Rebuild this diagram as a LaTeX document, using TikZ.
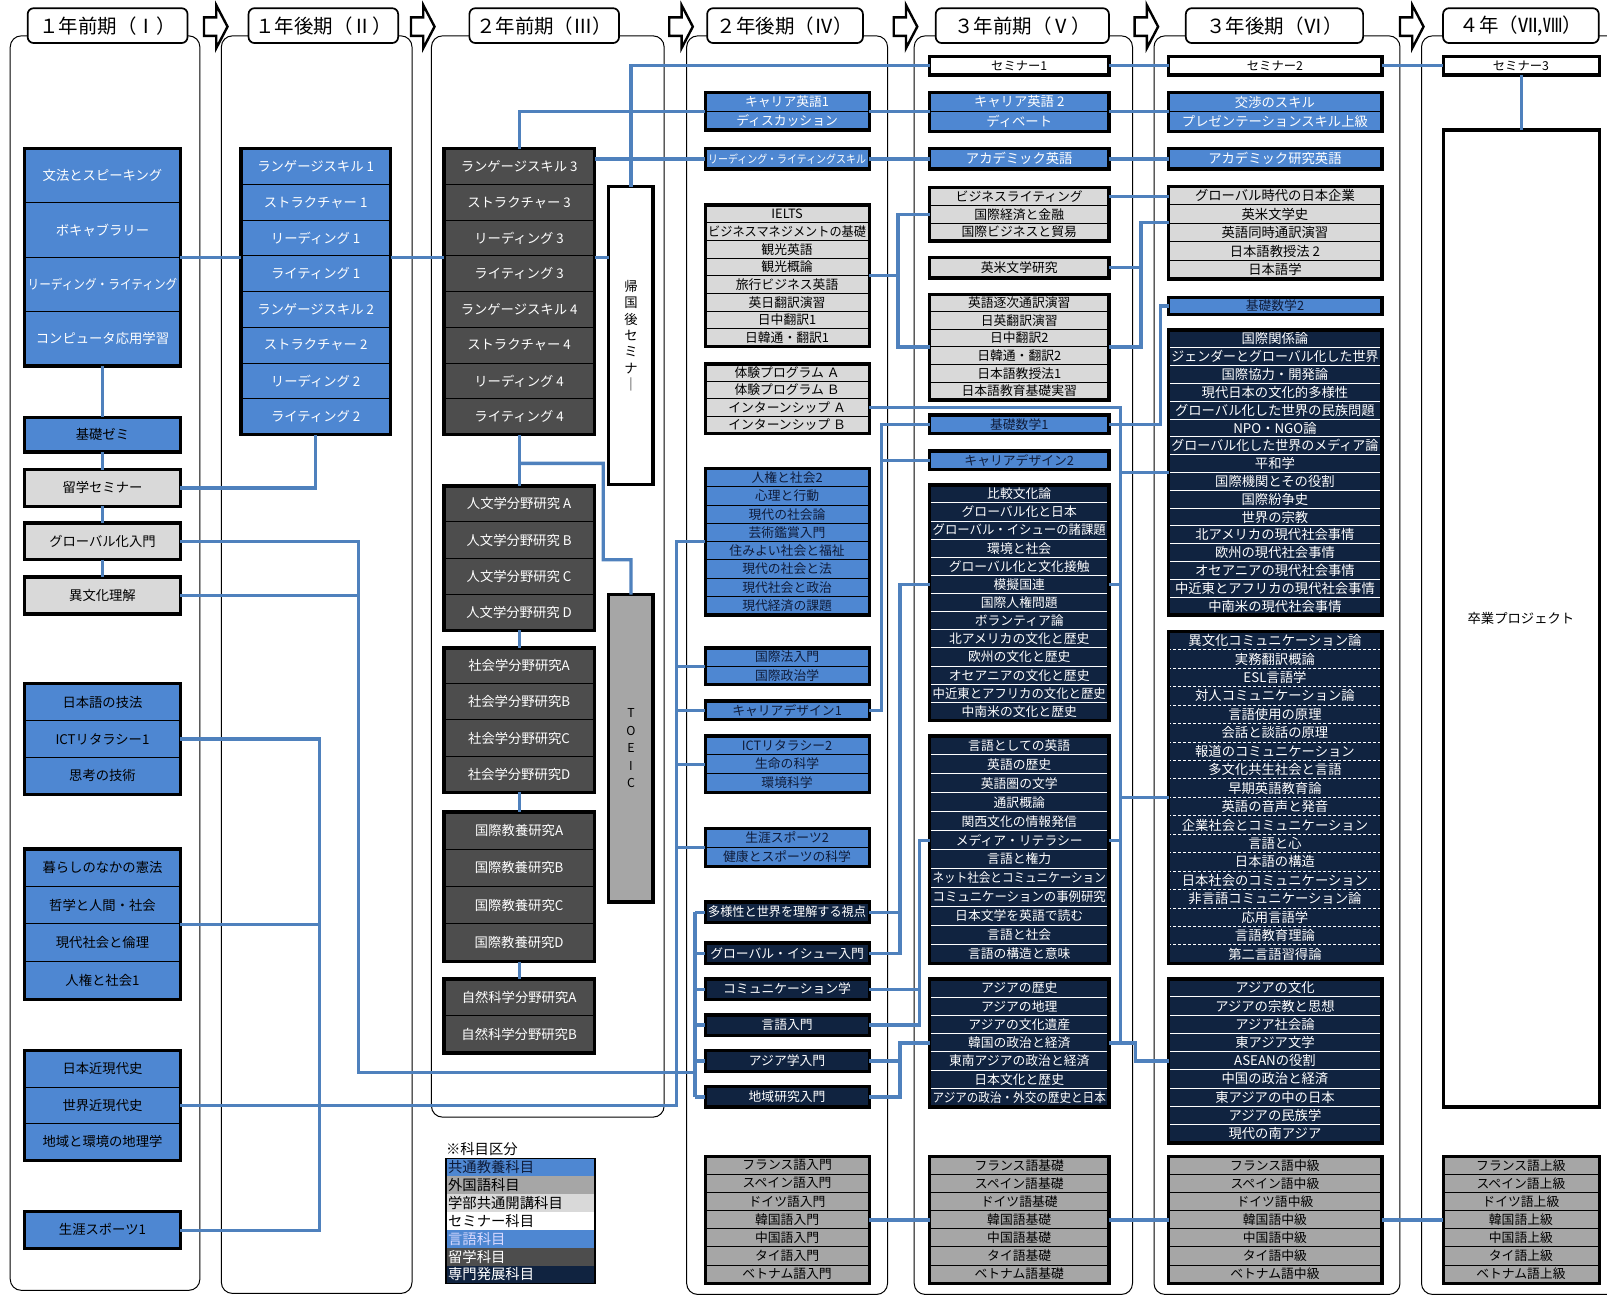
\documentclass[tikz,border=0pt]{standalone}
\usepackage{fontspec}
\setmainfont{Noto Sans CJK JP}
\usepackage{graphicx}
\usetikzlibrary{calc}
\definecolor{cblue}{RGB}{78,135,210}
\definecolor{cnavy}{RGB}{16,35,64}
\definecolor{cnavyt}{RGB}{15,28,58}
\definecolor{cdark}{RGB}{77,77,77}
\definecolor{cgray}{RGB}{166,166,166}
\definecolor{clight}{RGB}{217,217,217}
\definecolor{cline}{RGB}{79,129,189}
\newcommand\fsz[1]{\fontsize{#1}{#1}\selectfont}
\newsavebox\fitsavebox
\newcommand\fitw[2]{\sbox\fitsavebox{#2}\ifdim\wd\fitsavebox>#1\relax\resizebox{#1}{\height}{\usebox\fitsavebox}\else\usebox\fitsavebox\fi}
\tikzset{
 boxbg/.style={inner sep=0pt,outer sep=0pt,draw=none},
 boxborder/.style={draw=black,line width=3.4pt},
 celltext/.style={inner sep=0pt,outer sep=0pt},
 conn/.style={draw=cline,line width=3.3pt},
 panel/.style={draw=black,line width=1pt,rounded corners=11pt},
 hdr/.style={draw=black,line width=1.7pt,rounded corners=6pt,fill=white,font=\fsz{19},minimum height=34pt,inner sep=0pt},
 blkarrow/.style={draw=black,line width=2.4pt,fill=white,line join=miter},
 divk/.style={black,line width=1pt},
 divw/.style={white,line width=1pt},
 divwd/.style={white,line width=1pt,dash pattern=on 3pt off 2pt},
 bW bg/.style={fill=cblue}, bW txt/.style={text=white,font=\fsz{13}},
 bK bg/.style={fill=cblue}, bK txt/.style={text=black,font=\fsz{13}},
 bWs bg/.style={fill=cblue}, bWs txt/.style={text=white,font=\fsz{12.5}},
 bWt bg/.style={fill=cblue}, bWt txt/.style={text=white,font=\fsz{11}},
 bN bg/.style={fill=cblue}, bN txt/.style={text=cnavyt,font=\fsz{12.5}},
 lK bg/.style={fill=clight}, lK txt/.style={text=black,font=\fsz{13}},
 lKs bg/.style={fill=clight}, lKs txt/.style={text=black,font=\fsz{12.5}},
 dW bg/.style={fill=cdark}, dW txt/.style={text=white,font=\fsz{13}},
 gK bg/.style={fill=cgray}, gK txt/.style={text=black,font=\fsz{12.5}},
 nW bg/.style={fill=cnavy}, nW txt/.style={text=white,font=\fsz{13}},
 nWs bg/.style={fill=cnavy}, nWs txt/.style={text=white,font=\fsz{12.5}},
 wK bg/.style={fill=white}, wK txt/.style={text=black,font=\fsz{12}},
 wKl bg/.style={fill=white}, wKl txt/.style={text=black,font=\fsz{13}},
}
% #1 name #2 x1 #3 x2 #4 y1 #5 y2 #6 rows #7 kind #8 divider #9 items
\newcommand\subjlist[9]{%
  \node[boxbg,#7 bg,minimum width={(#3-#2)*1pt},minimum height={(#5-#4)*1pt}] (#1) at ({(#2+#3)/2},{(#4+#5)/2}) {};
  \pgfmathsetmacro\rowh{(#5-#4)/#6}%
  \pgfmathsetmacro\boxw{#3-#2-6}%
  \ifnum#6>1
    \foreach \rr in {2,...,#6}{\draw[#8] (#2,{#4+(\rr-1)*\rowh}) -- (#3,{#4+(\rr-1)*\rowh});}
  \fi
  \foreach \itm [count=\rr] in {#9}{%
    \node[celltext,#7 txt,minimum width={(#3-#2)*1pt},minimum height={\rowh*1pt}] (#1-\rr) at ({(#2+#3)/2},{#4+(\rr-0.5)*\rowh}) {\fitw{\boxw pt}{\itm}};}
  \draw[boxborder] (#1.north west) rectangle (#1.south east);
}
\newcommand\blockarrow[1]{\draw[blkarrow] (#1,17) -- ++(12,0) -- ++(0,-12) -- ++(11,21) -- ++(-11,21) -- ++(0,-12) -- ++(-12,0) -- cycle;}
\begin{document}
\begin{tikzpicture}[x=1pt,y=-1pt,scale=1.0249,every node/.append style={transform shape}]
\fill[white] (0,0) rectangle (1568,1262.6);
\useasboundingbox (0,0) rectangle (1568,1262.6);
\clip (0,0) rectangle (1568,1262.6);
% panels
\draw[panel] (10,35) rectangle (195,1259);
\draw[panel] (216,35) rectangle (402,1262);
\draw[panel] (421,35) rectangle (648,1090);
\draw[panel] (670,35) rectangle (866,1263);
\draw[panel] (892,35) rectangle (1105,1263);
\draw[panel] (1126,35) rectangle (1366,1263);
\draw[panel] (1387,35) rectangle (1620,1263);
% headers
\node[hdr,minimum width=156pt] (h1) at (105,25) {１年前期（Ⅰ）};
\node[hdr,minimum width=146pt] (h2) at (315.5,25) {１年後期（Ⅱ）};
\node[hdr,minimum width=146pt] (h3) at (531,25) {２年前期（Ⅲ）};
\node[hdr,minimum width=152pt] (h4) at (766,25) {２年後期（Ⅳ）};
\node[hdr,minimum width=169pt] (h5) at (997.5,25) {３年前期（Ⅴ）};
\node[hdr,minimum width=173pt] (h6) at (1243.5,25) {３年後期（Ⅵ）};
\node[hdr,minimum width=152pt] (h7) at (1484,25) {４年（Ⅶ,Ⅷ）};
\blockarrow{199}\blockarrow{401}\blockarrow{653}\blockarrow{872}\blockarrow{1107}\blockarrow{1366}
% column 1
\subjlist{c1a}{24}{176}{145}{357}{4}{bW}{divk}{文法とスピーキング,ボキャブラリー,リーディング・ライティング,コンピュータ応用学習}
\subjlist{c1b}{24}{176}{407}{441}{1}{bK}{divk}{基礎ゼミ}
\subjlist{c1c}{24}{176}{458}{494}{1}{lK}{divk}{留学セミナー}
\subjlist{c1d}{24}{176}{510}{546}{1}{lK}{divk}{グローバル化入門}
\subjlist{c1e}{24}{176}{563}{599}{1}{lK}{divk}{異文化理解}
\subjlist{c1f}{24}{176}{667}{775}{3}{bK}{divk}{日本語の技法,ICTリタラシー1,思考の技術}
\subjlist{c1g}{24}{176}{828}{975}{4}{bK}{divk}{暮らしのなかの憲法,哲学と人間・社会,現代社会と倫理,人権と社会1}
\subjlist{c1h}{24}{176}{1025}{1132}{3}{bK}{divk}{日本近現代史,世界近現代史,地域と環境の地理学}
\subjlist{c1i}{24}{176}{1182}{1218}{1}{bK}{divk}{生涯スポーツ1}
% column 2
\subjlist{c2}{235}{381}{145}{424}{8}{bW}{divk}{ランゲージスキル 1,ストラクチャー 1,リーディング 1,ライティング 1,ランゲージスキル 2,ストラクチャー 2,リーディング 2,ライティング 2}
% column 3
\subjlist{c3a}{433}{580}{145}{424}{8}{dW}{divk}{ランゲージスキル 3,ストラクチャー 3,リーディング 3,ライティング 3,ランゲージスキル 4,ストラクチャー 4,リーディング 4,ライティング 4}
\subjlist{c3b}{433}{580}{474}{615}{4}{dW}{divk}{人文学分野研究 A,人文学分野研究 B,人文学分野研究 C,人文学分野研究 D}
\subjlist{c3c}{433}{580}{632}{773}{4}{dW}{divk}{社会学分野研究A,社会学分野研究B,社会学分野研究C,社会学分野研究D}
\subjlist{c3d}{433}{580}{792}{938}{4}{dW}{divk}{国際教養研究A,国際教養研究B,国際教養研究C,国際教養研究D}
\subjlist{c3e}{433}{580}{955}{1027}{2}{dW}{divk}{自然科学分野研究A,自然科学分野研究B}
\node[draw=black,line width=3.4pt,fill=white,minimum width=43pt,minimum height=291pt,inner sep=0pt,outer sep=0pt] (kikoku) at (615.5,327.5) {};
\node[font=\fontsize{13}{16}\selectfont,align=center,inner sep=0pt] (kikokuT) at (kikoku.center) {帰\\国\\後\\セ\\ミ\\ナ\\｜};
\node[draw=black,line width=3.4pt,fill=cgray,minimum width=43pt,minimum height=300pt,inner sep=0pt,outer sep=0pt] (toeic) at (615.5,730) {};
\node[font=\fontsize{12}{17}\selectfont,align=center,inner sep=0pt] (toeicT) at (toeic.center) {T\\O\\E\\I\\C};
% column 4
\subjlist{c4a}{688}{848}{90}{127}{2}{bWs}{divk}{キャリア英語1,ディスカッション}
\subjlist{c4b}{688}{848}{145}{165}{1}{bWt}{divk}{リーディング・ライティングスキル}
\subjlist{c4c}{688}{848}{200}{338}{8}{lKs}{divk}{IELTS,ビジネスマネジメントの基礎,観光英語,観光概論,旅行ビジネス英語,英日翻訳演習,日中翻訳1,日韓通・翻訳1}
\subjlist{c4d}{688}{848}{355}{423}{4}{lKs}{divk}{体験プログラム Ａ,体験プログラム Ｂ,インターンシップ Ａ,インターンシップ Ｂ}
\subjlist{c4e}{688}{848}{457}{600}{8}{bN}{divk}{人権と社会2,心理と行動,現代の社会論,芸術鑑賞入門,住みよい社会と福祉,現代の社会と法,現代社会と政治,現代経済の課題}
\subjlist{c4f}{688}{848}{632}{668}{2}{bN}{divk}{国際法入門,国際政治学}
\subjlist{c4g}{688}{848}{684}{702}{1}{bN}{divk}{キャリアデザイン1}
\subjlist{c4h}{688}{848}{718}{773}{3}{bN}{divk}{ICTリタラシー2,生命の科学,環境科学}
\subjlist{c4i}{688}{848}{808}{845}{2}{bN}{divk}{生涯スポーツ2,健康とスポーツの科学}
\subjlist{c4j}{688}{848}{880}{900}{1}{nWs}{divw}{多様性と世界を理解する視点}
\subjlist{c4k}{688}{848}{920}{940}{1}{nWs}{divw}{グローバル・イシュー入門}
\subjlist{c4l}{688}{848}{955}{975}{1}{nWs}{divw}{コミュニケーション学}
\subjlist{c4m}{688}{848}{990}{1010}{1}{nWs}{divw}{言語入門}
\subjlist{c4n}{688}{848}{1025}{1045}{1}{nWs}{divw}{アジア学入門}
\subjlist{c4o}{688}{848}{1060}{1080}{1}{nWs}{divw}{地域研究入門}
\subjlist{c4p}{688}{848}{1128}{1252}{7}{gK}{divk}{フランス語入門,スペイン語入門,ドイツ語入門,韓国語入門,中国語入門,タイ語入門,ベトナム語入門}
% column 5
\subjlist{c5a}{907}{1082}{55}{73}{1}{wK}{divk}{セミナー1}
\subjlist{c5b}{907}{1082}{90}{128}{2}{bW}{divk}{キャリア英語 2,ディベート}
\subjlist{c5c}{907}{1082}{145}{165}{1}{bW}{divk}{アカデミック英語}
\subjlist{c5d}{907}{1082}{183}{235}{3}{lKs}{divk}{ビジネスライティング,国際経済と金融,国際ビジネスと貿易}
\subjlist{c5e}{907}{1082}{251}{271}{1}{lKs}{divk}{英米文学研究}
\subjlist{c5f}{907}{1082}{287}{390}{6}{lKs}{divk}{英語逐次通訳演習,日英翻訳演習,日中翻訳2,日韓通・翻訳2,日本語教授法1,日本語教育基礎実習}
\subjlist{c5g}{907}{1082}{405}{423}{1}{bN}{divk}{基礎数学1}
\subjlist{c5h}{907}{1082}{440}{458}{1}{bN}{divk}{キャリアデザイン2}
\subjlist{c5i}{907}{1082}{473}{703}{13}{nWs}{divw}{比較文化論,グローバル化と日本,グローバル・イシューの諸課題,環境と社会,グローバル化と文化接触,模擬国連,国際人権問題,ボランティア論,北アメリカの文化と歴史,欧州の文化と歴史,オセアニアの文化と歴史,中近東とアフリカの文化と歴史,中南米の文化と歴史}
\subjlist{c5j}{907}{1082}{718}{940}{12}{nWs}{divw}{言語としての英語,英語の歴史,英語圏の文学,通訳概論,関西文化の情報発信,メディア・リテラシー,言語と権力,ネット社会とコミュニケーション,コミュニケーションの事例研究,日本文学を英語で読む,言語と社会,言語の構造と意味}
\subjlist{c5k}{907}{1082}{955}{1080}{7}{nWs}{divw}{アジアの歴史,アジアの地理,アジアの文化遺産,韓国の政治と経済,東南アジアの政治と経済,日本文化と歴史,アジアの政治・外交の歴史と日本}
\subjlist{c5l}{907}{1082}{1128}{1252}{7}{gK}{divk}{フランス語基礎,スペイン語基礎,ドイツ語基礎,韓国語基礎,中国語基礎,タイ語基礎,ベトナム語基礎}
% column 6
\subjlist{c6a}{1140}{1348}{55}{73}{1}{wK}{divk}{セミナー2}
\subjlist{c6b}{1140}{1348}{90}{128}{2}{bW}{divk}{交渉のスキル,プレゼンテーションスキル上級}
\subjlist{c6c}{1140}{1348}{145}{165}{1}{bW}{divk}{アカデミック研究英語}
\subjlist{c6d}{1140}{1348}{182}{272}{5}{lK}{divk}{グローバル時代の日本企業,英米文学史,英語同時通訳演習,日本語教授法 2,日本語学}
\subjlist{c6e}{1140}{1348}{290}{307}{1}{bN}{divk}{基礎数学2}
\subjlist{c6f}{1140}{1348}{322}{600}{16}{nW}{divw}{国際関係論,ジェンダーとグローバル化した世界,国際協力・開発論,現代日本の文化的多様性,グローバル化した世界の民族問題,NPO・NGO論,グローバル化した世界のメディア論,平和学,国際機関とその役割,国際紛争史,世界の宗教,北アメリカの現代社会事情,欧州の現代社会事情,オセアニアの現代社会事情,中近東とアフリカの現代社会事情,中南米の現代社会事情}
\subjlist{c6g}{1140}{1348}{616}{940}{18}{nW}{divwd}{異文化コミュニケーション論,実務翻訳概論,ESL言語学,対人コミュニケーション論,言語使用の原理,会話と談話の原理,報道のコミュニケーション,多文化共生社会と言語,早期英語教育論,英語の音声と発音,企業社会とコミュニケーション,言語と心,日本語の構造,日本社会のコミュニケーション,非言語コミュニケーション論,応用言語学,言語教育理論,第二言語習得論}
\subjlist{c6h}{1140}{1348}{955}{1115}{9}{nW}{divw}{アジアの文化,アジアの宗教と思想,アジア社会論,東アジア文学,ASEANの役割,中国の政治と経済,東アジアの中の日本,アジアの民族学,現代の南アジア}
\subjlist{c6i}{1140}{1348}{1128}{1252}{7}{gK}{divk}{フランス語中級,スペイン語中級,ドイツ語中級,韓国語中級,中国語中級,タイ語中級,ベトナム語中級}
% column 7
\subjlist{c7a}{1408}{1560}{55}{73}{1}{wK}{divk}{セミナー3}
\subjlist{c7b}{1408}{1560}{127}{1080}{1}{wKl}{divk}{卒業プロジェクト}
\subjlist{c7c}{1408}{1560}{1128}{1252}{7}{gK}{divk}{フランス語上級,スペイン語上級,ドイツ語上級,韓国語上級,中国語上級,タイ語上級,ベトナム語上級}
% legend
\node[anchor=south west,font=\fsz{14},inner sep=0pt] (legT) at (435,1128) {※科目区分};
\foreach \fc/\tc/\lab [count=\i] in {cblue/cnavyt/共通教養科目,cgray/black/外国語科目,clight/black/学部共通開講科目,white/black/セミナー科目,cblue/white!85!blue/言語科目,cdark/white/留学科目,cnavy/white/専門発展科目}{
  \node[fill=\fc,text=\tc,minimum width=145pt,minimum height=17.43pt,text width=141pt,align=left,inner xsep=2pt,inner ysep=0pt,font=\fsz{14},anchor=north west] (leg\i) at (435,{1130+(\i-1)*17.43}) {\lab};
}
\draw[black,line width=1.2pt] (leg1.north west) rectangle (leg7.south east);
% bus coordinates
\coordinate (xA) at (350,1046);
\coordinate (xB) at (312,0);
\coordinate (xC) at (660,0);
\coordinate (xN) at (678,0);
\coordinate (xD) at (876,0);
\coordinate (xE) at (860,0);
\coordinate (xF) at (878,0);
\coordinate (xG) at (897,0);
\coordinate (xH) at (1093,0);
\coordinate (xI) at (1108,0);
\coordinate (xJ) at (1113,217);
\coordinate (xK) at (1132,0);
% connectors: column 1-3
\draw[conn] (c1a.east) -- (c1a.east -| c2.west);
\draw[conn] (c1a.east -| c2.east) -- (c1a.east -| c3a.west);
\draw[conn] (c1a.south) -- (c1b.north);
\draw[conn] (c1b.south) -- (c1c.north);
\draw[conn] (c1c.south) -- (c1d.north);
\draw[conn] (c1d.south) -- (c1e.north);
\draw[conn] (c2.south) -- (c2.south |- c1c.east) -- (c1c.east);
\draw[conn] (c1d.east) -- (c1d.east -| xA) -- (xA) -- (xA -| xN);
\draw[conn] (c1e.east) -- (c1e.east -| xA);
\draw[conn] (c1f.east) -- (c1f.east -| xB) -- (c1i.east -| xB) -- (c1i.east);
\draw[conn] (c1g.east) -- (c1g.east -| xB);
\draw[conn] (c1h.east) -- (c1h.east -| xC) -- (c4e.west -| xC) -- (c4e.west);
\foreach \n in {c4f,c4g,c4h,c4i} \draw[conn] (\n.west -| xC) -- (\n.west);
\draw[conn] (c4j.west -| xN) -- (c4o.west -| xN);
\foreach \n in {c4j,c4k,c4l,c4m,c4n,c4o} \draw[conn] (\n.west -| xN) -- (\n.west);
\draw[conn] (c3a.north) -- (c3a.north |- c4a.west) -- (c4a.west);
\draw[conn] (c3a.east |- c4b.west) -- (c4b.west);
\draw[conn] (c1a.east -| c3a.east) -- (c1a.east -| kikoku.west);
\draw[conn] (kikoku.north) -- (kikoku.north |- c5a.west) -- (c5a.west);
\draw[conn] (c3a.south) -- (c3b.north);
\draw[conn] ($(c3a.south)+(0,28)$) -- ++(82,0) -- ++(0,94) -- ($(toeic.north)+(0,-34)$) -- (toeic.north);
\draw[conn] (c3b.south) -- (c3c.north);
\draw[conn] (c3c.south) -- (c3d.north);
\draw[conn] (c3d.south) -- (c3e.north);
% connectors: columns 4-7
\draw[conn] (c4c.east) -- (c4c.east -| xD);
\draw[conn] (c5d.west) -- (c5d.west -| xD) -- (c5f.west -| xD) -- (c5f.west);
\draw[conn] (c4a.east) -- (c4a.east -| c5b.west);
\draw[conn] (c5b.east) -- (c5b.east -| c6b.west);
\draw[conn] (c4b.east) -- (c4b.east -| c5c.west);
\draw[conn] (c5c.east) -- (c5c.east -| c6c.west);
\draw[conn] (c5a.east) -- (c5a.east -| c6a.west);
\draw[conn] (c6a.east) -- (c6a.east -| c7a.west);
\draw[conn] (c5d-1.east) -- (c5d-1.east -| c6d.west);
\draw[conn] (c5f.east) -- (c5f.east -| xJ) -- (xJ) -- (xJ -| c6d.west);
\draw[conn] (c5e.east) -- (c5e.east -| xJ);
\draw[conn] (c5g.east) -- (c5g.east -| xK) -- (c6e.west -| xK) -- (c6e.west);
\draw[conn] (c4g.east) -- (c4g.east -| xE) -- (c5g.west -| xE) -- (c5g.west);
\draw[conn] (c5h.west -| xE) -- (c5h.west);
\draw[conn] (c4d-3.east) -- (c4d-3.east -| xH) -- (c5k.east -| xH);
\draw[conn] (c5i-6.east) -- (c5i-6.east -| xH);
\draw[conn] (c5j-6.east) -- (c5j-6.east -| xH);
\draw[conn] (c6f.west -| xH) -- (c6f.west);
\draw[conn] (c6g.west -| xH) -- (c6g.west);
\draw[conn] (c5k.east) -- (c5k.east -| xI) -- (c6h.west -| xI) -- (c6h.west);
\draw[conn] (c5i-6.west) -- (c5i-6.west -| xF) -- (c4k.east -| xF) -- (c4k.east);
\draw[conn] (c4j.east) -- (c4j.east -| xF);
\draw[conn] (c5j-6.west) -- (c5j-6.west -| xG) -- (c4m.east -| xG) -- (c4m.east);
\draw[conn] (c4l.east) -- (c4l.east -| xG);
\draw[conn] (c5k.west) -- (c5k.west -| xF) -- (c4o.east -| xF) -- (c4o.east);
\draw[conn] (c4n.east) -- (c4n.east -| xF);
\draw[conn] (c4p.east) -- (c4p.east -| c5l.west);
\draw[conn] (c5l.east) -- (c5l.east -| c6i.west);
\draw[conn] (c6i.east) -- (c6i.east -| c7c.west);
\draw[conn] (c7a.south) -- (c7b.north);
\end{tikzpicture}
\end{document}
